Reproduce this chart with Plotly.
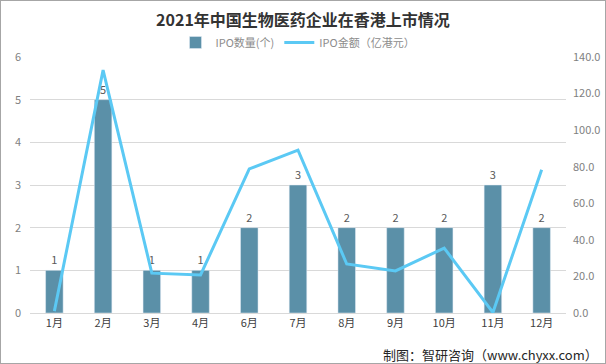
import plotly.graph_objects as go

months = ["1月", "2月", "3月", "4月", "6月", "7月", "8月", "9月", "10月", "11月", "12月"]
ipo_count = [1, 5, 1, 1, 2, 3, 2, 2, 2, 3, 2]
ipo_amount = [1.0, 132.8, 21.8, 20.8, 78.8, 89.1, 26.8, 23.0, 35.5, 0.3, 78.3]

font_family = "Noto Sans CJK SC, Microsoft YaHei, sans-serif"

fig = go.Figure()
fig.add_trace(go.Bar(
    x=months, y=ipo_count, name="IPO数量(个)",
    marker=dict(color="#5B90A8"), width=0.36,
    text=[str(v) for v in ipo_count], textposition="outside",
    textfont=dict(size=11, color="#595959"), cliponaxis=False,
))
fig.add_trace(go.Scatter(
    x=months, y=ipo_amount, name="IPO金额（亿港元）", yaxis="y2",
    mode="lines", line=dict(color="#5BC9F4", width=3),
))

fig.update_layout(
    width=606, height=364,
    margin=dict(l=30, r=40, t=57, b=51, autoexpand=False),
    paper_bgcolor="white", plot_bgcolor="white",
    font=dict(family=font_family, size=11, color="#595959"),
    title=dict(text="<b>2021年中国生物医药企业在香港上市情况</b>", x=0.5, xanchor="center",
               y=0.945, yanchor="middle",
               font=dict(family="Noto Sans CJK SC, serif", size=16, color="#333333")),
    legend=dict(orientation="h", x=0.5, xanchor="center", y=1.0, yanchor="bottom",
                font=dict(size=11, color="#8c8c8c"), bgcolor="rgba(0,0,0,0)",
                itemwidth=30),
    showlegend=True,
    xaxis=dict(showgrid=False, ticks="", tickfont=dict(size=11, color="#404040"),
               showline=True, linecolor="#D9D9D9", linewidth=1, automargin=False),
    yaxis=dict(range=[0, 6], dtick=1, showgrid=True, gridcolor="#D9D9D9", automargin=False,
               zeroline=False, tickfont=dict(size=11, color="#7f7f7f"), ticklabelstandoff=8),
    yaxis2=dict(range=[0, 140], dtick=20, overlaying="y", side="right", showgrid=False,
                zeroline=False, tickformat=".1f", tickfont=dict(size=11, color="#7f7f7f"),
                ticklabelstandoff=6, automargin=False),
)

fig.add_annotation(text="制图：智研咨询（www.chyxx.com）", xref="paper", yref="paper",
                   x=1.063, y=-0.118, xanchor="right", yanchor="top", showarrow=False,
                   font=dict(size=13, color="#262626"))

fig.add_shape(type="rect", xref="paper", yref="paper", x0=-30/536, x1=1+40/536,
              y0=-51/256, y1=1+57/256, line=dict(color="#A6A6A6", width=2))

fig.write_html("out.html", config={"displayModeBar": False},
               post_script="document.body.style.margin='0';document.body.style.overflow='hidden';")
